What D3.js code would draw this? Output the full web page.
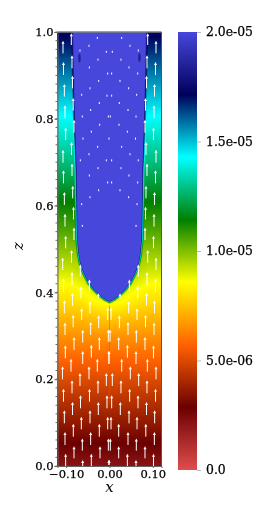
<!DOCTYPE html>
<html>
<head>
<meta charset="utf-8">
<script src="https://cdn.jsdelivr.net/npm/d3@7"></script>
<style>
  html, body { margin: 0; padding: 0; background: #fff; overflow: hidden; }
  #chart { position: relative; width: 274px; height: 530px; }
  canvas, svg { position: absolute; left: 0; top: 0; }
</style>
</head>
<body>
<div id="chart"></div>
<script>
/* Colour bar stops, value in units of 1e-5. */
const colorStops = [0, 0.286, 0.57, 0.858, 1.142, 1.428, 1.714, 2]
const colorValues = ["#e04d4d", "#6b0000", "#ff6100", "#ffff00", "#007f00", "#00ffff", "#00005c", "#4747db"]
const barTicks = [0, 0.5, 1, 1.5, 2]
const barLabels = ["0.0", "5.0e-06", "1.0e-05", "1.5e-05", "2.0e-05"]

/* Background field, value in units of 1e-5, one row per fieldZ, one column per fieldX. */
const fieldX = [0, 0.03, 0.06, 0.09, 0.12]
const fieldZ = [0, 0.052, 0.1, 0.2, 0.25, 0.3, 0.34, 0.38, 0.42, 0.46, 0.5, 0.55, 0.6, 0.7, 0.8, 0.9, 1]
const fieldValues = [
  [0.21, 0.21, 0.21, 0.21, 0.21],
  [0.286, 0.286, 0.286, 0.286, 0.286],
  [0.36, 0.36, 0.36, 0.36, 0.36],
  [0.505, 0.505, 0.505, 0.505, 0.505],
  [0.58, 0.58, 0.58, 0.58, 0.58],
  [0.665, 0.665, 0.66, 0.66, 0.66],
  [0.76, 0.75, 0.735, 0.725, 0.725],
  [0.88, 0.86, 0.82, 0.8, 0.795],
  [0.93, 0.92, 0.89, 0.86, 0.858],
  [0.96, 0.96, 0.95, 0.93, 0.93],
  [0.99, 0.99, 0.99, 0.99, 0.99],
  [1.065, 1.065, 1.065, 1.065, 1.065],
  [1.13, 1.13, 1.13, 1.13, 1.13],
  [1.28, 1.28, 1.28, 1.28, 1.28],
  [1.42, 1.42, 1.42, 1.42, 1.42],
  [1.57, 1.57, 1.57, 1.57, 1.57],
  [1.73, 1.73, 1.73, 1.73, 1.73]
]

/* Bubble outline: half width at each height. */
const bubbleZ = [1, 0.9, 0.805, 0.682, 0.6, 0.528, 0.49, 0.47, 0.452, 0.44, 0.42, 0.405, 0.392, 0.382, 0.376]
const bubbleHalf = [0.0866, 0.085, 0.083, 0.079, 0.078, 0.077, 0.0738, 0.0705, 0.065, 0.06, 0.05, 0.038, 0.025, 0.012, 0]

/* Velocity arrows, one pair per row: height of the tail, left and right x, length. */
const arrowZ = [0.97, 0.9508, 0.9163, 0.9009, 0.8702, 0.851, 0.8187, 0.8011, 0.768, 0.7512, 0.7166, 0.6989, 0.6682, 0.6513, 0.6167, 0.6014, 0.5684, 0.5515, 0.5207, 0.5015, 0.4685, 0.4516, 0.4363, 0.4171, 0.4017, 0.4017, 0.3863, 0.3687, 0.3863, 0.3518, 0.3518, 0.3364, 0.3195, 0.3172, 0.3364, 0.3018, 0.3018, 0.2842, 0.2673, 0.2673, 0.2865, 0.2481, 0.2496, 0.235, 0.235, 0.2174, 0.2174, 0.1997, 0.1997, 0.1843, 0.1843, 0.1674, 0.1674, 0.1482, 0.1482, 0.1329, 0.1329, 0.1175, 0.1175, 0.0983, 0.0983, 0.0845, 0.0845, 0.0676, 0.0676, 0.0484, 0.0484, 0.0353, 0.0353, 0.0177, 0.0177, 0, 0, 0, 0.0023]
const arrowLeft = [-0.0881, -0.1073, -0.0865, -0.1062, -0.0854, -0.1042, -0.0838, -0.1027, -0.0819, -0.1012, -0.0877, -0.1073, -0.0865, -0.1062, -0.085, -0.1042, -0.0831, -0.1027, -0.0819, -0.1012, -0.0877, -0.1081, -0.0673, -0.0865, -0.1062, -0.0465, -0.0658, -0.0854, -0.0258, -0.1042, -0.045, -0.0642, -0.0838, -0.025, -0.0042, -0.1027, -0.0435, -0.0619, -0.0819, -0.0235, -0.0027, -0.1019, -0.0419, -0.0619, -0.0012, -0.0888, -0.0281, -0.1085, -0.0473, -0.0681, -0.0073, -0.0865, -0.0265, -0.1062, -0.0462, -0.0669, -0.0058, -0.0854, -0.0258, -0.1042, -0.045, -0.065, -0.0042, -0.0835, -0.0235, -0.1027, -0.0435, -0.0627, -0.0027, -0.0819, -0.0219, -0.1012, -0.0419, -0.0619, -0.0012]
const arrowRight = [0.0881, 0.1073, 0.0865, 0.1062, 0.0854, 0.1038, 0.0831, 0.1027, 0.0819, 0.1015, 0.0842, 0.1073, 0.0865, 0.1062, 0.0842, 0.1038, 0.0831, 0.1027, 0.0819, 0.1015, 0.0881, 0.1073, 0.0665, 0.0865, 0.1062, 0.0458, 0.065, 0.0854, 0.0242, 0.1038, 0.0442, 0.0635, 0.0831, 0.0227, 0.0035, 0.1027, 0.0427, 0.0619, 0.0819, 0.0212, 0.0012, 0.1015, 0.0412, 0.0612, -0.0012, 0.0873, 0.0281, 0.1073, 0.0481, 0.0673, 0.0065, 0.0865, 0.0265, 0.1062, 0.0465, 0.0658, 0.005, 0.0854, 0.025, 0.1042, 0.045, 0.0635, 0.0035, 0.0838, 0.0212, 0.1035, 0.0427, 0.0619, 0.0019, 0.0819, 0.0212, 0.1015, 0.0412, 0.0612, -0.0012]
const arrowLen = [0.027, 0.029, 0.03, 0.03, 0.029, 0.029, 0.029, 0.03, 0.03, 0.029, 0.03, 0.03, 0.029, 0.03, 0.029, 0.03, 0.029, 0.03, 0.029, 0.029, 0.029, 0.029, 0.028, 0.03, 0.03, 0.028, 0.028, 0.03, 0.0115, 0.03, 0.028, 0.027, 0.029, 0.03, 0.029, 0.029, 0.03, 0.03, 0.03, 0.03, 0.028, 0.03, 0.03, 0.03, 0.03, 0.03, 0.03, 0.03, 0.03, 0.03, 0.03, 0.03, 0.03, 0.03, 0.03, 0.03, 0.03, 0.03, 0.03, 0.03, 0.03, 0.029, 0.029, 0.03, 0.03, 0.03, 0.03, 0.028, 0.028, 0.028, 0.028, 0.028, 0.028, 0.014, 0.012]

/* Very slow arrows inside the bubble. */
const dotX = [-0.0281, 0.0281, -0.0473, 0.0473, -0.0681, 0.0665, -0.0073, 0.0065, -0.0265, 0.0265, -0.0465, 0.0450, -0.0042, 0.0050, 0.0650, -0.0250, 0.0242, -0.0450, 0.0442, -0.0642, 0.0627, -0.0058, 0.0050, -0.0235, 0.0227, -0.0435, 0.0427, -0.0627, 0.0612, -0.0027, 0.0019, -0.0227, 0.0219, -0.0419, 0.0412, -0.0612, 0.0600, -0.0012, -0.0273, 0.0281, -0.0473, 0.0473, -0.0673, 0.0665, -0.0073, 0.0050, -0.0265, 0.0265, -0.0465, 0.0450, -0.0042, 0.0050, 0.0650, -0.0250, 0.0242, -0.0450, 0.0442, -0.0642, 0.0635, -0.0627, 0.0612]
const dotZ = [0.984, 0.984, 0.966, 0.966, 0.955, 0.955, 0.952, 0.952, 0.934, 0.934, 0.916, 0.916, 0.902, 0.902, 0.902, 0.885, 0.885, 0.868, 0.868, 0.853, 0.853, 0.851, 0.851, 0.834, 0.834, 0.818, 0.818, 0.803, 0.803, 0.803, 0.803, 0.784, 0.784, 0.768, 0.768, 0.752, 0.752, 0.752, 0.733, 0.733, 0.716, 0.716, 0.702, 0.702, 0.702, 0.702, 0.684, 0.684, 0.667, 0.667, 0.651, 0.651, 0.651, 0.633, 0.633, 0.617, 0.617, 0.601, 0.601, 0.551, 0.551]

/* Two dark flecks near the top of the bubble. */
const fleckX = [-0.0693, 0.0692]
const fleckZ = [0.94, 0.941]

const xTicks = [-0.1, 0, 0.1]
const zTicks = [0, 0.2, 0.4, 0.6, 0.8, 1]

/* Define sizes. */
const plotLeft = 57.5
const plotRight = 161.5
const plotTop = 32
const plotBottom = 466
const barLeft = 178
const barRight = 197

const x = d3.scaleLinear().domain([-0.12, 0.12]).range([plotLeft, plotRight])
const z = d3.scaleLinear().domain([0, 1]).range([plotBottom, plotTop])
const barScale = d3.scaleLinear().domain([0, 2]).range([470, 32])
const color = d3.scaleLinear().domain(colorStops).range(colorValues).interpolate(d3.interpolateRgb)

const chart = d3.select("#chart")

/* Bilinear lookup in the field table. */
const bisect = d3.bisector(d => d).right
const lookup = (ax, az) => {
  const i = Math.min(bisect(fieldX, ax), fieldX.length - 1)
  const j = Math.min(bisect(fieldZ, az), fieldZ.length - 1)
  const tx = (ax - fieldX[i - 1]) / (fieldX[i] - fieldX[i - 1])
  const tz = (az - fieldZ[j - 1]) / (fieldZ[j] - fieldZ[j - 1])
  const low = d3.interpolateNumber(fieldValues[j - 1][i - 1], fieldValues[j - 1][i])(tx)
  const high = d3.interpolateNumber(fieldValues[j][i - 1], fieldValues[j][i])(tx)
  return d3.interpolateNumber(low, high)(tz)
}

/* Outline of the bubble in pixels. */
const bubblePolygon = bubbleZ.map((d, i) => [x(-bubbleHalf[i]), z(d)])
  .concat(bubbleZ.map((d, i) => [x(bubbleHalf[i]), z(d)]).reverse())

/* Distance from a pixel to the outline. */
const edgeDistance = (px, py) => {
  let best = Infinity
  for (let i = 0; i < bubblePolygon.length - 1; i++) {
    const [ax, ay] = bubblePolygon[i]
    const [bx, by] = bubblePolygon[i + 1]
    const dx = bx - ax
    const dy = by - ay
    const t = Math.max(0, Math.min(1, ((px - ax) * dx + (py - ay) * dy) / (dx * dx + dy * dy || 1)))
    best = Math.min(best, Math.hypot(px - ax - t * dx, py - ay - t * dy))
  }
  return d3.polygonContains(bubblePolygon, [px, py]) ? -best : best
}

/* Colour of one point of the field. */
const bandWidth = 1.5
const fieldColor = (cx, cy, d) => {
  const base = lookup(Math.min(0.12, Math.abs(x.invert(cx))), Math.max(0, Math.min(1, z.invert(cy))))
  const s = Math.max(0, Math.min(1, (bandWidth - d) / (2 * bandWidth)))
  return d3.rgb(color(base + (2 - base) * s * s))
}

/* Paint the field on a canvas. */
const canvas = chart.append("canvas")
  .attr("width", 274)
  .attr("height", 530)
const ctx = canvas.node().getContext("2d")

for (let py = plotTop; py < plotBottom; py++) {
  for (let px = Math.floor(plotLeft); px < Math.ceil(plotRight); px++) {
    const d = edgeDistance(px + 0.5, py + 0.5)
    if (Math.abs(d) > bandWidth + 1.5) {
      ctx.fillStyle = fieldColor(px + 0.5, py + 0.5, d)
    } else {
      /* Average a few samples near the bubble edge so it stays smooth. */
      let r = 0
      let g = 0
      let b = 0
      for (const sy of [1 / 6, 0.5, 5 / 6]) {
        for (const sx of [1 / 6, 0.5, 5 / 6]) {
          const c = fieldColor(px + sx, py + sy, edgeDistance(px + sx, py + sy))
          r += c.r / 9
          g += c.g / 9
          b += c.b / 9
        }
      }
      ctx.fillStyle = d3.rgb(r, g, b).formatRgb()
    }
    ctx.fillRect(px, py, 1, 1)
  }
}

/* Paint the colour bar. */
for (let py = 32; py < 470; py++) {
  ctx.fillStyle = color(barScale.invert(py + 0.5))
  ctx.fillRect(barLeft, py, barRight - barLeft, 1)
}

/* Create svg-element. */
const svg = chart.append("svg")
  .attr("width", 274)
  .attr("height", 530)

/* Centre line below the bubble. */
svg.append("line")
  .attr("x1", x(0)).attr("x2", x(0))
  .attr("y1", z(0.37)).attr("y2", z(0.14))
  .attr("stroke", "#d8501c")
  .attr("stroke-opacity", 0.5)

/* Dark flecks. */
svg.selectAll("ellipse")
  .data(fleckX)
  .enter()
  .append("ellipse")
  .attr("cx", d => x(d))
  .attr("cy", (d, i) => z(fleckZ[i]))
  .attr("rx", 1.2)
  .attr("ry", 4.5)
  .attr("fill", "#14147a")
  .attr("fill-opacity", 0.75)

/* Draw the arrows. */
const arrows = svg.append("g").attr("fill", "#fff").attr("stroke", "#fff")
const arrowRows = arrowZ.flatMap((d, i) => [
  { x: arrowLeft[i], tail: d, len: arrowLen[i] },
  { x: arrowRight[i], tail: d, len: arrowLen[i] }
])

arrows.selectAll("line.arrow")
  .data(arrowRows)
  .enter()
  .append("line")
  .attr("class", "arrow")
  .attr("x1", d => x(d.x))
  .attr("x2", d => x(d.x))
  .attr("y1", d => z(d.tail))
  .attr("y2", d => z(d.tail + d.len) + 2)

arrows.selectAll("path.head")
  .data(arrowRows)
  .enter()
  .append("path")
  .attr("class", "head")
  .attr("stroke", "none")
  .attr("d", d => {
    const tx = x(d.x)
    const ty = z(d.tail + d.len)
    return `M${tx},${ty}L${tx + 1.5},${ty + 3}L${tx - 1.5},${ty + 3}Z`
  })

/* Slow arrows show up as specks. */
arrows.selectAll("line.dot")
  .data(dotX)
  .enter()
  .append("line")
  .attr("class", "dot")
  .attr("x1", d => x(d))
  .attr("x2", d => x(d))
  .attr("y1", (d, i) => z(dotZ[i]))
  .attr("y2", (d, i) => z(dotZ[i]) - 2)

/* Style for all axis labels. */
const styleLabels = (g, size) => g.selectAll("text")
  .attr("font-size", size)
  .style("font-family", '"DejaVu Serif", serif')
  .attr("fill", "#000")
  .attr("stroke", "#000")
  .attr("stroke-width", 0.25)

/* Axes. */
const zAxis = d3.axisLeft(z).tickValues(zTicks).tickFormat(d3.format(".1f")).tickSize(3).tickPadding(1)
const xAxis = d3.axisBottom(x).tickValues(xTicks).tickFormat(d3.format(".2f")).tickSize(2).tickPadding(2)

const axisGroup = svg.append("g")
axisGroup.append("g")
  .attr("transform", `translate(${plotLeft},0)`)
  .call(zAxis)
  .call(g => styleLabels(g, 11.5))
axisGroup.append("g")
  .attr("transform", `translate(0,${plotBottom})`)
  .call(xAxis)
  .call(g => styleLabels(g, 11.5))
axisGroup.selectAll("path, line").attr("stroke", "#666")

/* Minor ticks on the z axis. */
axisGroup.selectAll("line.minor")
  .data(d3.range(51).map(d => d * 0.02))
  .enter()
  .append("line")
  .attr("class", "minor")
  .attr("x1", plotLeft - 2)
  .attr("x2", plotLeft)
  .attr("y1", d => z(d))
  .attr("y2", d => z(d))
  .attr("stroke", "#666")

/* Frame on the top and right. */
svg.append("path")
  .attr("d", `M${plotLeft},${plotTop}H${plotRight}`)
  .attr("fill", "none")
  .attr("stroke", "#808080")
  .attr("stroke-width", 1.5)
svg.append("path")
  .attr("d", `M${plotRight},${plotTop}V${plotBottom}`)
  .attr("fill", "none")
  .attr("stroke", "#555")

/* Axis titles. */
svg.append("text")
  .attr("x", x(0))
  .attr("y", 492)
  .attr("text-anchor", "middle")
  .attr("font-family", '"DejaVu Serif", serif')
  .attr("font-size", 15)
  .attr("font-style", "italic")
  .text("x")

svg.append("text")
  .attr("transform", "translate(23,246) rotate(-90)")
  .attr("text-anchor", "middle")
  .attr("font-family", '"DejaVu Serif", serif')
  .attr("font-size", 15)
  .attr("font-style", "italic")
  .text("z")

/* Colour bar axis. */
const barAxis = d3.axisRight(barScale)
  .tickValues(barTicks)
  .tickFormat((d, i) => barLabels[i])
  .tickSize(4)
  .tickPadding(5)

svg.append("g")
  .attr("transform", `translate(${barRight},0)`)
  .call(barAxis)
  .call(g => g.select(".domain").remove())
  .call(g => g.selectAll("line").attr("stroke", "#bbb"))
  .call(g => styleLabels(g, 12.4))
</script>
</body>
</html>
